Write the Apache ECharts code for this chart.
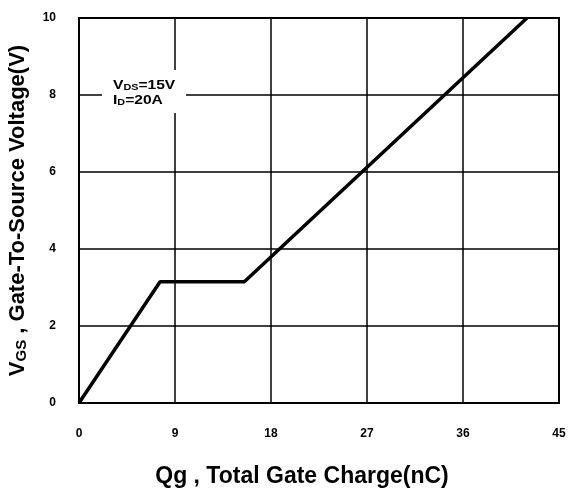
<!DOCTYPE html>
<html><head><meta charset="utf-8">
<script src="https://cdn.jsdelivr.net/npm/echarts@6/dist/echarts.min.js"></script>
<style>html,body{margin:0;padding:0;background:#fff}#c{width:569px;height:490px}</style>
</head><body><div id="c"></div>
<script>
const qg = [0, 7.6, 15.5, 42];
const vgs = [0, 3.15, 3.15, 10];
const xTicks = [0, 9, 18, 27, 36, 45];
const yTicks = [0, 2, 4, 6, 8, 10];

const chart = echarts.init(document.getElementById('c'));
const F = 'Liberation Sans, Arial, sans-serif';
chart.setOption({
  animation: false,
  backgroundColor: '#fff',
  grid: {left: 79, right: 10, top: 18, bottom: 87, show: true, borderColor: '#000', borderWidth: 2,
    containLabel: false, outerBoundsMode: 'none'},
  xAxis: {
    type: 'value', min: 0, max: 45, interval: 9,
    name: 'Qg , Total Gate Charge(nC)', nameLocation: 'middle', nameGap: 62,
    nameTextStyle: {fontFamily: F, fontWeight: 'bold', fontSize: 23, color: '#000', padding: [0, 34, 0, 0]},
    axisLine: {show: false}, axisTick: {show: false},
    axisLabel: {margin: 25, fontFamily: F, fontWeight: 'bold', fontSize: 12, color: '#000',
      formatter: v => xTicks.includes(v) ? String(v) : ''},
    splitLine: {show: true, lineStyle: {color: '#000', width: 1.5}}
  },
  yAxis: {
    type: 'value', min: 0, max: 10, interval: 2,
    name: '{a|V}{b|GS}{a| , Gate-To-Source Voltage(V)}', nameLocation: 'middle', nameGap: 50,
    nameTextStyle: {fontFamily: F, fontWeight: 'bold', fontSize: 22, color: '#000',
      rich: {a: {fontFamily: F, fontWeight: 'bold', fontSize: 22, color: '#000'},
             b: {fontFamily: F, fontWeight: 'bold', fontSize: 15, color: '#000', verticalAlign: 'bottom', padding: [6, 0, 0, 0]}}},
    axisLine: {show: false}, axisTick: {show: false},
    axisLabel: {margin: 23, fontFamily: F, fontWeight: 'bold', fontSize: 12, color: '#000',
      formatter: v => yTicks.includes(v) ? String(v) : ''},
    splitLine: {show: true, lineStyle: {color: '#000', width: 1.5}}
  },
  series: [{
    type: 'line', data: qg.map((x, i) => [x, vgs[i]]),
    symbol: 'none', lineStyle: {color: '#000', width: 3.5}, z: 5
  }],
  graphic: [{
    type: 'rect', left: 102, top: 70, shape: {width: 84, height: 43}, style: {fill: '#fff'}, z: 10
  }, {
    type: 'text', x: 113, y: 78, scaleX: 1.2, z: 11,
    style: {
      text: '{a|V}{s|DS}{a|=15V}\n{a|I}{s|D}{a|=20A}',
      rich: {
        a: {fontFamily: F, fontWeight: 'bold', fontSize: 13, color: '#000', lineHeight: 15},
        s: {fontFamily: F, fontWeight: 'bold', fontSize: 9, color: '#000', padding: [5, 0, 0, 0], lineHeight: 15}
      }
    }
  }]
});
</script></body></html>
